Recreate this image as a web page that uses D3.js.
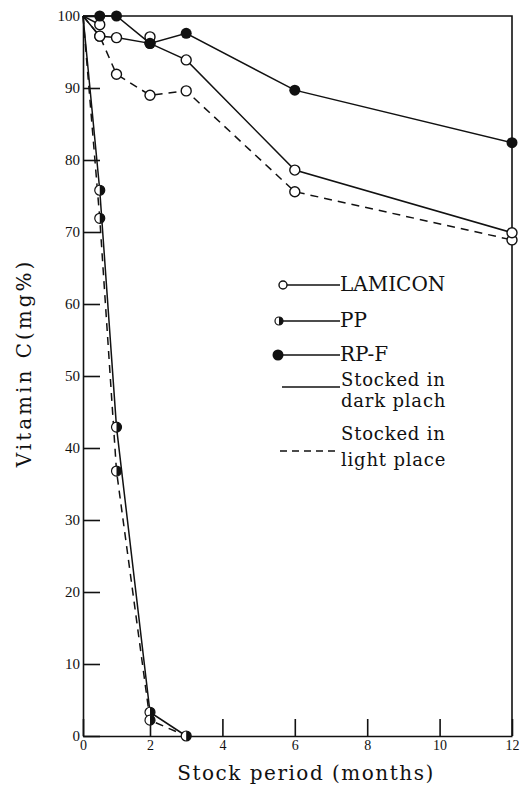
<!DOCTYPE html>
<html>
  <head>
    <title>Vitamin C</title>
    <meta charset="utf-8">
    <script src="https://d3js.org/d3.v7.min.js"></script>
    <style type="text/css">
      body { margin: 0; background: #fff; }
      #chart { display: block; }
      #chart .axis path, #chart .axis line { stroke: #111; stroke-width: 1.6; }
      #chart .axis text { font: 15px "Liberation Serif", serif; fill: #111; }
      #chart .title { font: 20px "DejaVu Serif", serif; fill: #111; }
      #chart .legend text { font: 20px "DejaVu Serif", serif; fill: #111; }
      #chart .legend text.small { font-size: 18px; letter-spacing: 0.8px; }
      #chart .series { fill: none; stroke: #111; stroke-width: 1.5; }
      #chart .dashed { stroke-dasharray: 8 6; }
    </style>
  </head>
  <body>
    <svg id="chart"></svg>
    <script>
      // data (months, Vitamin C mg%)
      var months = [0, 0.5, 1, 2, 3, 6, 12];
      var lamiconDark = [100, 97.2, 97.0, 96.2, 93.9, 78.6, 69.9];
      var lamiconLight = [100, 97.2, 91.9, 89.0, 89.6, 75.6, 68.9];
      var rpfDark = [100, 100, 100, 96.2, 97.6, 89.7, 82.4];
      var ppMonths = [0, 0.5, 1, 2, 3];
      var ppDark = [100, 75.8, 42.9, 3.3, 0];
      var ppLight = [100, 71.9, 36.8, 2.2, 0];
      // stray LAMICON points near the top
      var extraMonths = [0, 0.5, 2];
      var extraValues = [100, 98.8, 97.1];

      var xTicks = [0, 2, 4, 6, 8, 10, 12];
      var yTicks = [0, 10, 20, 30, 40, 50, 60, 70, 80, 90, 100];
      var legendLabels = ["LAMICON", "PP", "RP-F"];

      var width = 521, height = 785;

      // first 2 months are drawn narrower in the original figure
      var x = d3.scaleLinear().domain([0, 2, 12]).range([83, 150, 512]);
      var y = d3.scaleLinear().domain([0, 100]).range([736, 16]);

      var svg = d3.select("#chart")
          .attr("width", width)
          .attr("height", height);

      // axes, ticks pointing inward
      svg.append("g")
          .attr("class", "axis")
          .attr("transform", "translate(0," + y(0) + ")")
          .call(d3.axisBottom(x).tickValues(xTicks).tickSizeInner(-17).tickSizeOuter(0).tickPadding(4))
          .call(function(g) { g.selectAll("text").style("font-size", "14px"); });

      svg.append("g")
          .attr("class", "axis")
          .attr("transform", "translate(" + x(0) + ",0)")
          .call(d3.axisLeft(y).tickValues(yTicks).tickSizeInner(-17).tickSizeOuter(0).tickPadding(3));

      // frame top and right
      svg.append("path")
          .attr("d", "M" + x(0) + "," + y(100) + "H" + x(12) + "V" + y(0))
          .attr("fill", "none")
          .attr("stroke", "#111")
          .attr("stroke-width", 1.6);

      var pts = function(mx, vals) { return mx.map(function(m, i) { return [m, vals[i]]; }); };
      var line = d3.line().x(function(d) { return x(d[0]); }).y(function(d) { return y(d[1]); });

      var lines = [
        { d: pts(months, lamiconDark), dash: false },
        { d: pts(months, lamiconLight), dash: true },
        { d: pts(months, rpfDark), dash: false },
        { d: pts(ppMonths, ppDark), dash: false },
        { d: pts(ppMonths, ppLight), dash: true },
        { d: pts(extraMonths.slice(0, 2), extraValues.slice(0, 2)), dash: false }
      ];

      svg.selectAll("path.series")
          .data(lines)
          .enter().append("path")
            .attr("class", function(d) { return d.dash ? "series dashed" : "series"; })
            .attr("d", function(d) { return line(d.d); });

      // markers
      function openMark(g, cx, cy, r) {
        g.append("circle").attr("cx", cx).attr("cy", cy).attr("r", r)
          .attr("fill", "#fff").attr("stroke", "#111").attr("stroke-width", 1.4);
      }
      function fullMark(g, cx, cy, r) {
        g.append("circle").attr("cx", cx).attr("cy", cy).attr("r", r).attr("fill", "#111");
      }
      function halfMark(g, cx, cy, r) {
        g.append("circle").attr("cx", cx).attr("cy", cy).attr("r", r)
          .attr("fill", "#fff").attr("stroke", "#111").attr("stroke-width", 1.2);
        g.append("path")
          .attr("d", "M" + cx + "," + (cy - r) + "A" + r + "," + r + " 0 0 1 " + cx + "," + (cy + r) + "Z")
          .attr("fill", "#111");
      }

      var marks = svg.append("g");
      pts(months, lamiconLight).slice(1).forEach(function(p) { openMark(marks, x(p[0]), y(p[1]), 5); });
      pts(months, lamiconDark).slice(1).forEach(function(p) { openMark(marks, x(p[0]), y(p[1]), 5); });
      pts(extraMonths, extraValues).slice(1).forEach(function(p) { openMark(marks, x(p[0]), y(p[1]), 5); });
      pts(ppMonths, ppDark).slice(1).forEach(function(p) { halfMark(marks, x(p[0]), y(p[1]), 5); });
      pts(ppMonths, ppLight).slice(1, 4).forEach(function(p) { halfMark(marks, x(p[0]), y(p[1]), 5); });
      pts(months, rpfDark).slice(1).forEach(function(p) { fullMark(marks, x(p[0]), y(p[1]), 5.5); });

      // axis titles
      svg.append("text")
          .attr("class", "title")
          .attr("x", 306).attr("y", 780)
          .attr("text-anchor", "middle")
          .attr("letter-spacing", 1.5)
          .text("Stock period (months)");

      svg.append("text")
          .attr("class", "title")
          .attr("transform", "translate(31,363) rotate(-90)")
          .attr("text-anchor", "middle")
          .attr("letter-spacing", 3)
          .text("Vitamin C(mg%)");

      // legend
      var lg = svg.append("g").attr("class", "legend");
      var rows = [285, 321, 355];
      var markFns = [openMark, halfMark, fullMark];
      legendLabels.forEach(function(t, i) {
        var mx = [283, 279, 278][i];
        lg.append("line").attr("x1", mx).attr("x2", 340).attr("y1", rows[i]).attr("y2", rows[i])
          .attr("stroke", "#111").attr("stroke-width", 1.4);
        markFns[i](lg, mx, rows[i], i === 2 ? 5.5 : 4);
        lg.append("text").attr("x", 340).attr("y", rows[i] + 6).text(t);
      });

      lg.append("line").attr("x1", 282).attr("x2", 340).attr("y1", 387).attr("y2", 387)
        .attr("stroke", "#111").attr("stroke-width", 1.4);
      lg.append("text").attr("class", "small").attr("x", 341).attr("y", 386).text("Stocked in");
      lg.append("text").attr("class", "small").attr("x", 341).attr("y", 407).text("dark plach");

      lg.append("line").attr("x1", 280).attr("x2", 340).attr("y1", 451).attr("y2", 451)
        .attr("stroke", "#111").attr("stroke-width", 1.4).attr("stroke-dasharray", "7 5");
      lg.append("text").attr("class", "small").attr("x", 341).attr("y", 440).text("Stocked in");
      lg.append("text").attr("class", "small").attr("x", 341).attr("y", 466).text("light place");
    </script>
  </body>
</html>
